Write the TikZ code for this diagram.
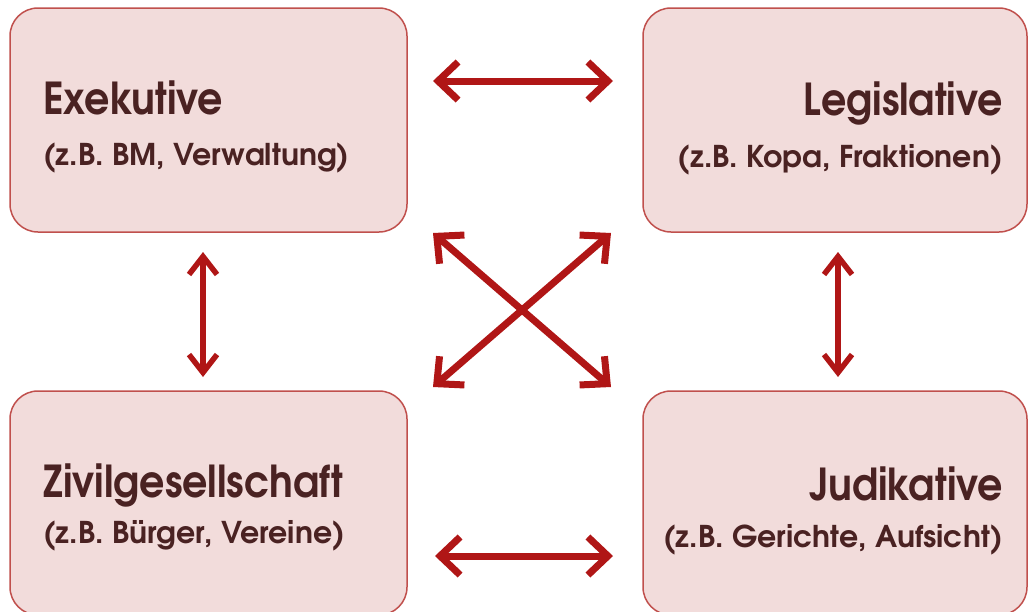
\documentclass[tikz,border=0pt]{standalone}
\usepackage{fontspec}
\setmainfont{TeX Gyre Adventor}
\usetikzlibrary{arrows.meta}
\definecolor{boxfill}{RGB}{242,220,219}
\definecolor{boxline}{RGB}{192,80,77}
\definecolor{txt}{RGB}{74,34,34}
\definecolor{arr}{RGB}{176,22,22}
\newcommand{\squeezed}[1]{\scalebox{0.9}[1]{#1}}
\tikzset{
  pane/.style={draw=boxline, line width=1.5pt, fill=boxfill, rounded corners=28pt, inner sep=0pt},
  ttl/.style={inner sep=0pt, text=txt, font=\bfseries\fontsize{44}{44}\selectfont},
  sub/.style={inner sep=0pt, text=txt, font=\bfseries\fontsize{30}{30}\selectfont},
  bigarr/.style={draw=arr, line width=7pt, {Straight Barb[length=20pt,width=38pt]}-{Straight Barb[length=20pt,width=38pt]}},
  smallarr/.style={draw=arr, line width=5.5pt, {Straight Barb[length=18pt,width=28pt]}-{Straight Barb[length=18pt,width=28pt]}}
}
\begin{document}
\begin{tikzpicture}[x=1pt,y=-1pt]
\useasboundingbox (0,0) rectangle (1029,611);
\node[pane, minimum width=397pt, minimum height=224pt] (ex) at (208.5,120) {};
\node[pane, minimum width=384pt, minimum height=224pt] (leg) at (835,120) {};
\node[pane, minimum width=397pt, minimum height=224pt] (ziv) at (208.5,503) {};
\node[pane, minimum width=384pt, minimum height=224pt] (jud) at (835,503) {};
\node[ttl, anchor=base west] (ext) at (43,114) {\squeezed{Exekutive}};
\node[sub, anchor=base west] (exs) at (43,165) {(z.B. BM, Verwaltung)};
\node[ttl, anchor=base east] (legt) at (1003,115) {\squeezed{Legislative}};
\node[sub, anchor=base east] (legs) at (1003,167) {(z.B. Kopa, Fraktionen)};
\node[ttl, anchor=base west] (zivt) at (43,497) {\squeezed{Zivilgesellschaft}};
\node[sub, anchor=base west] (zivs) at (43,543) {(z.B. Bürger, Vereine)};
\node[ttl, anchor=base east] (judt) at (1003,500) {\squeezed{Judikative}};
\node[sub, anchor=base east] (juds) at (1003,547) {(z.B. Gerichte, Aufsicht)};
\coordinate (a1) at (433,81); \coordinate (a2) at (613,81);
\coordinate (b1) at (435,556); \coordinate (b2) at (613,556);
\coordinate (c1) at (203,252); \coordinate (c2) at (203,377);
\coordinate (d1) at (838,252); \coordinate (d2) at (838,377);
\coordinate (e1) at (433,233); \coordinate (e2) at (611,387);
\coordinate (f1) at (611,233); \coordinate (f2) at (433,387);
\draw[bigarr] (a1) -- (a2);
\draw[bigarr] (b1) -- (b2);
\draw[smallarr] (c1) -- (c2);
\draw[smallarr] (d1) -- (d2);
\draw[bigarr] (e1) -- (e2);
\draw[bigarr] (f1) -- (f2);
\end{tikzpicture}
\end{document}
